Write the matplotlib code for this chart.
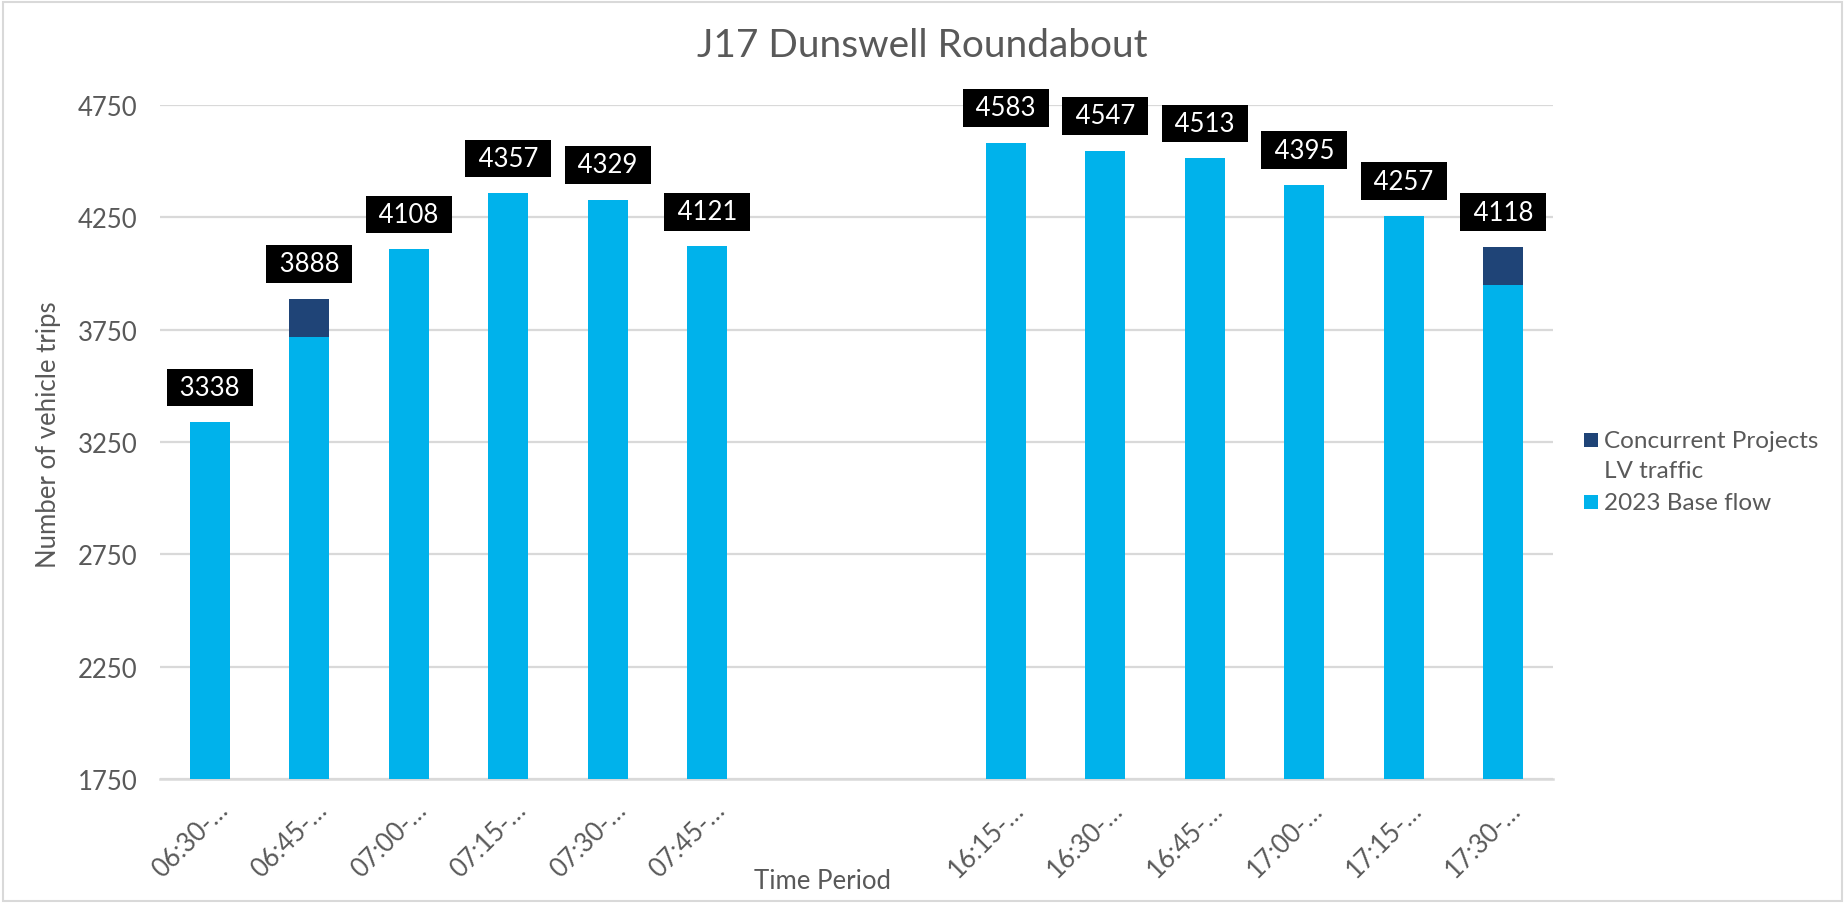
import matplotlib
matplotlib.use('Agg')
import matplotlib.pyplot as plt
import matplotlib.transforms as mtransforms
from matplotlib.patches import Rectangle
import numpy as np

plt.rcParams['font.family'] = ['Lato', 'DejaVu Sans']

# Time periods (two blank slots separate the AM and PM peaks)
periods = ['06:30-…', '06:45-…', '07:00-…', '07:15-…', '07:30-…', '07:45-…', '', '',
           '16:15-…', '16:30-…', '16:45-…', '17:00-…', '17:15-…', '17:30-…']
base_flow = [3338, 3719, 4108, 4357, 4329, 4121, np.nan, np.nan,
             4583, 4547, 4513, 4395, 4257, 3949]
concurrent = [0, 169, 0, 0, 0, 0, np.nan, np.nan,
              0, 0, 0, 0, 0, 169]
yticks = [1750, 2250, 2750, 3250, 3750, 4250, 4750]

light_blue = '#00B2EB'
dark_blue = '#1F4477'
grey_text = '#595959'
grid_grey = '#D9D9D9'

W, H = 1845, 904
fig = plt.figure(figsize=(W / 100, H / 100), dpi=100)
ax = fig.add_axes([160 / W, 1 - 780 / H, (1553 - 160) / W, (780 - 106) / H])

x = np.arange(len(periods))
base = np.array(base_flow, dtype=float)
extra = np.array(concurrent, dtype=float)
ax.bar(x, base, width=0.4, color=light_blue, zorder=3)
ax.bar(x, extra, width=0.4, bottom=base, color=dark_blue, zorder=3)

# black value boxes above each stack
totals = base + extra
for xi, tot in zip(x, totals):
    if np.isnan(tot):
        continue
    ax.annotate(f' {int(tot)} ', xy=(xi, tot), xytext=(0, 16),
                textcoords='offset points', ha='center', va='bottom',
                fontsize=18.5, color='white', zorder=5,
                bbox=dict(boxstyle='square,pad=0.25', fc='black', ec='none'))

ax.set_xlim(-0.5, len(periods) - 0.5)
ax.set_ylim(1750, 4750)
ax.set_yticks(yticks)
ax.yaxis.grid(True, color=grid_grey, linewidth=1.6, zorder=0)
ax.set_axisbelow(True)
for side in ['top', 'right', 'left']:
    ax.spines[side].set_visible(False)
ax.spines['bottom'].set_color(grid_grey)
ax.spines['bottom'].set_linewidth(1.8)

ax.tick_params(axis='y', length=0, pad=16, labelsize=18.5, labelcolor=grey_text)
ax.tick_params(axis='x', length=0, pad=19, labelsize=18.5, labelcolor=grey_text)
ax.set_xticks(x)
ax.set_xticklabels(periods, rotation=45, ha='right', va='center',
                   rotation_mode='anchor')
shift = mtransforms.ScaledTranslation(14 / 100, 0, fig.dpi_scale_trans)
for lbl in ax.get_xticklabels():
    lbl.set_transform(lbl.get_transform() + shift)

fig.text(49 / W, 1 - 435 / H, 'Number of vehicle trips', rotation=90,
         ha='center', va='center', fontsize=18.5, color=grey_text)
fig.text(823 / W, 1 - 882 / H, 'Time Period', ha='center', va='center',
         fontsize=18.5, color=grey_text)
fig.text(0.5, 1 - 46 / H, 'J17 Dunswell Roundabout', ha='center', va='center',
         fontsize=28, color=grey_text)

# legend drawn by hand so the swatch sits on the first line of a wrapped label
legend_rows = [(dark_blue, ['Concurrent Projects', 'LV traffic'], 448),
               (light_blue, ['2023 Base flow'], 510)]
for colour, lines, baseline in legend_rows:
    fig.patches.append(Rectangle((1584 / W, 1 - baseline / H), 14 / W, 14 / H,
                                 transform=fig.transFigure, fc=colour, ec='none'))
    for i, line in enumerate(lines):
        fig.text(1604 / W, 1 - (baseline + 30 * i) / H, line, ha='left',
                 va='baseline', fontsize=17.5, color=grey_text)

# light chart-area border
fig.patches.append(Rectangle((3 / W, 2 / H), (W - 6) / W, (H - 5) / H,
                             transform=fig.transFigure, fill=False,
                             ec=grid_grey, lw=1.5))

fig.savefig('out.png', dpi=100, facecolor='white')
